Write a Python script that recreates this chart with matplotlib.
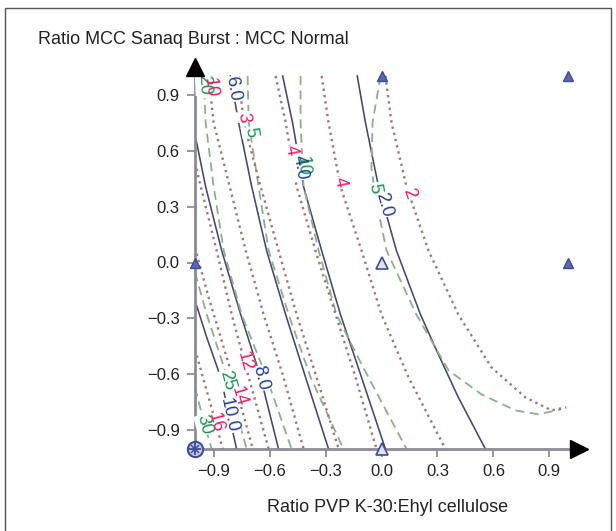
import numpy as np
import matplotlib
matplotlib.use("Agg")
import matplotlib.pyplot as plt
from matplotlib.patches import Rectangle

plt.rcParams['font.family'] = ['Liberation Sans', 'DejaVu Sans']

# axis ticks
ticks = [-0.9, -0.6, -0.3, 0.0, 0.3, 0.6, 0.9]

# contour lines
# x = ratio PVP K-30 : ethyl cellulose, y = ratio MCC Sanaq Burst : MCC normal
yy = [1.0, 0.75, 0.407, 0.064, -0.279, -0.616, -1.0]

# blue (solid) response
b20_x = [-0.13, -0.086, -0.016, 0.08, 0.209, 0.305, 0.412, 0.557]
b20_y = [1.0, 0.75, 0.407, 0.064, -0.279, -0.493, -0.723, -1.0]
b40_x = [-0.53, -0.477, -0.418, -0.321, -0.22, -0.107, 0.021]
b60_x = [-0.81, -0.766, -0.696, -0.616, -0.514, -0.407, -0.284]
b80_x = [-1.0, -0.943, -0.857, -0.755, -0.648, -0.552]
b80_y = [0.686, 0.407, 0.064, -0.279, -0.616, -1.0]
b100_x = [-1.0, -0.937, -0.862, -0.777]
b100_y = [-0.204, -0.402, -0.616, -1.0]

# green (dashed) response
g5_x = [-0.005, -0.048, -0.054, -0.032, 0.027, 0.187, 0.359, 0.536, 0.718, 0.841, 0.964]
g5_y = [1.0, 0.75, 0.509, 0.348, 0.064, -0.279, -0.578, -0.707, -0.793, -0.814, -0.787]
g10_x = [-0.434, -0.434, -0.418, -0.337, -0.241, -0.107, 0.134]
g10_y = [1.0, 0.75, 0.407, 0.064, -0.279, -0.546, -1.0]
g15_x = [-0.718, -0.712, -0.659, -0.605, -0.498, -0.38, -0.204]
g20_x = [-0.953, -0.943, -0.90, -0.846, -0.75, -0.616, -0.482]
g25_x = [-1.0, -0.937, -0.846, -0.723]
g25_y = [-0.054, -0.279, -0.557, -1.0]
g30_x = [-1.0, -0.948, -0.91]
g30_y = [-0.67, -0.873, -1.0]

# red (dotted) response
r2_x = [0.021, 0.054, 0.134, 0.252, 0.412, 0.589, 0.771, 0.911, 0.991]
r2_y = [1.0, 0.75, 0.407, 0.064, -0.279, -0.562, -0.723, -0.793, -0.777]
r4b_x = [-0.321, -0.284, -0.22, -0.107, 0.0, 0.145, 0.343]
r4a_x = [-0.568, -0.514, -0.455, -0.354, -0.246, -0.139, -0.027]
r8_x = [-0.766, -0.739, -0.648, -0.552, -0.455, -0.348, -0.23]
r10_x = [-0.927, -0.90, -0.814, -0.728, -0.632, -0.525, -0.418]
r12_x = [-1.0, -0.969, -0.884, -0.803, -0.712, -0.605]
r12_y = [0.536, 0.407, 0.064, -0.279, -0.616, -1.0]
r14_x = [-1.0, -0.927, -0.846, -0.766, -0.69]
r14_y = [0.08, -0.187, -0.455, -0.723, -1.0]
r16_x = [-1.0, -0.889, -0.852]
r16_y = [-0.466, -0.857, -1.0]

# design points
full_x = [0, 1, -1, 1]
full_y = [1, 1, 0, 0]
open_x = [0, 0]
open_y = [0, -1]
centre_x = [-1]
centre_y = [-1]

BLUE_LINE = '#45457a'
GREEN_LINE = '#86b486'
RED_LINE = '#a87472'
BLUE_TXT = '#1f3c9c'
GREEN_TXT = '#12984a'
RED_TXT = '#ee1860'
AXIS = '#8c8c98'
MARK = '#3c4c9c'

fig = plt.figure(figsize=(6.16, 5.31), dpi=100)
ax = fig.add_axes([195 / 616, 82 / 531, 2.10 * 186.5 / 616, 2.10 * 186.5 / 531])
ax.set_xlim(-1.0, 1.10)
ax.set_ylim(-1.0, 1.10)


def blue(x, y):
    ax.plot(x, y, color=BLUE_LINE, lw=1.15, zorder=2)


def green(x, y):
    ax.plot(x, y, color=GREEN_LINE, lw=1.3, dashes=(5, 3), zorder=2)


def red(x, y):
    ax.plot(x, y, color=RED_LINE, lw=1.7, linestyle=(0, (1, 1.7)), zorder=2)


blue(b20_x, b20_y)
blue(b40_x, yy)
blue(b60_x, yy)
blue(b80_x, b80_y)
blue(b100_x, b100_y)

green(g5_x, g5_y)
green(g10_x, g10_y)
green(g15_x, yy)
green(g20_x, yy)
green(g25_x, g25_y)
green(g30_x, g30_y)

red(r2_x, r2_y)
red(r4b_x, yy)
red(r4a_x, yy)
red(r8_x, yy)
red(r10_x, yy)
red(r12_x, r12_y)
red(r14_x, r14_y)
red(r16_x, r16_y)


def label(xs, ys, y0, text, color, shift=0.0):
    # put a contour label on the line at height y0, turned along the line
    for i in range(len(ys) - 1):
        if (ys[i] - y0) * (ys[i + 1] - y0) <= 0:
            break
    t = (y0 - ys[i]) / (ys[i + 1] - ys[i])
    x0 = xs[i] + t * (xs[i + 1] - xs[i]) + shift
    p1 = ax.transData.transform((xs[i], ys[i]))
    p2 = ax.transData.transform((xs[i + 1], ys[i + 1]))
    ang = np.degrees(np.arctan2(p2[1] - p1[1], p2[0] - p1[0]))
    kw = dict(rotation=ang, rotation_mode='anchor', ha='center', va='center',
              fontsize=13)
    ax.text(x0, y0, text, color='white', zorder=5,
            bbox=dict(fc='white', ec='none', pad=0.3), **kw)
    ax.text(x0, y0, text, color=color, zorder=6, **kw)


label(b60_x, yy, 0.93, "6.0", BLUE_TXT)
label(g10_x, g10_y, 0.52, "10", GREEN_TXT)
label(b40_x, yy, 0.51, "4.0", BLUE_TXT)
label(b20_x, b20_y, 0.31, "2.0", BLUE_TXT)
label(b80_x, b80_y, -0.62, "8.0", BLUE_TXT)
label(b100_x, b100_y, -0.82, "10.0", BLUE_TXT)

label(g20_x, yy, 0.95, "20", GREEN_TXT)
label(g15_x, yy, 0.70, "5", GREEN_TXT)
label(g5_x, g5_y, 0.40, "5", GREEN_TXT)
label(g25_x, g25_y, -0.63, "25", GREEN_TXT)
label(g30_x, g30_y, -0.87, "30", GREEN_TXT)

label(r10_x, yy, 0.94, "10", RED_TXT)
label(r8_x, yy, 0.78, "3", RED_TXT)
label(r4a_x, yy, 0.60, "4", RED_TXT)
label(r4b_x, yy, 0.43, "4", RED_TXT)
label(r2_x, r2_y, 0.37, "2", RED_TXT)
label(r12_x, r12_y, -0.53, "12", RED_TXT)
label(r14_x, r14_y, -0.72, "14", RED_TXT)
label(r16_x, r16_y, -0.86, "16", RED_TXT)

# design points
ax.plot(full_x, full_y, linestyle='none', marker='^', ms=7, color=MARK,
        mfc='#5a68b0', zorder=7, clip_on=False)
ax.plot(open_x, open_y, linestyle='none', marker='^', ms=9, color=MARK,
        mfc='#dfe3f3', mew=1.2, zorder=7, clip_on=False)
ax.plot(centre_x, centre_y, linestyle='none', marker='o', ms=11, color=MARK,
        mfc='#c9cdea', mew=1.5, zorder=8, clip_on=False)
ax.plot(centre_x, centre_y, linestyle='none', marker='+', ms=9, color=MARK,
        mew=1.3, zorder=9, clip_on=False)
ax.plot(centre_x, centre_y, linestyle='none', marker='x', ms=6, color=MARK,
        mew=1.1, zorder=9, clip_on=False)

# axes with arrows
for s in ['top', 'right']:
    ax.spines[s].set_visible(False)
for s in ['left', 'bottom']:
    ax.spines[s].set_color(AXIS)
    ax.spines[s].set_linewidth(2)
ax.spines['bottom'].set_bounds(-1.0, 1.05)
ax.spines['left'].set_bounds(-1.0, 1.04)
ax.plot([1.06], [-1.0], marker='>', ms=13, color='black', clip_on=False, zorder=10)
ax.plot([-1.0], [1.05], marker='^', ms=13, color='black', clip_on=False, zorder=10)

labels = [f"{t:.1f}".replace('-', '\u2212') for t in ticks]
ax.set_xticks(ticks)
ax.set_xticklabels(labels)
ax.set_yticks(ticks)
ax.set_yticklabels(labels)
ax.tick_params(direction='out', length=6, width=1.3, color=AXIS,
               labelsize=12, labelcolor='#222222', pad=5)

fig.text(38 / 616, 1 - 40 / 531, "Ratio MCC Sanaq Burst : MCC Normal",
         fontsize=13, va='center', ha='left', color='#222222')
fig.text(388 / 616, 1 - 507 / 531, "Ratio PVP K-30:Ehyl cellulose",
         fontsize=13, va='center', ha='center', color='#222222')

# frame round the figure
fig.patches.append(Rectangle((5 / 616, -0.02), 606 / 616, 1.02 - 8 / 531,
                             transform=fig.transFigure, fill=False,
                             ec='#555555', lw=1))

fig.savefig("out.png", dpi=100)
